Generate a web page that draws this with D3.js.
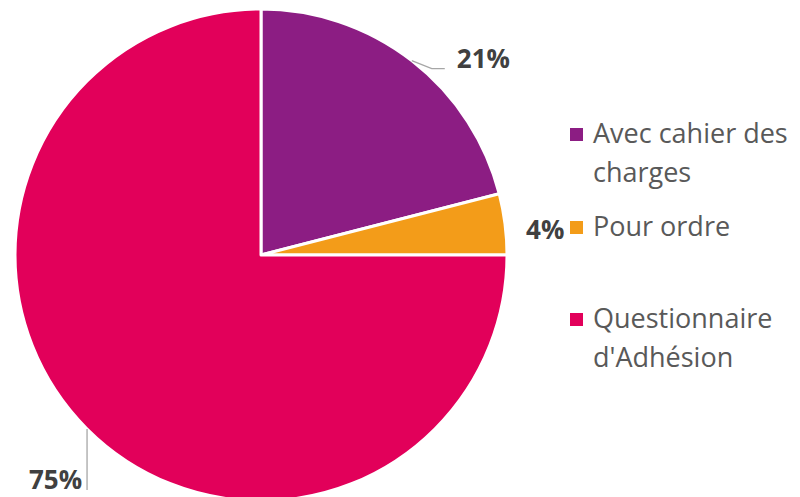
<!DOCTYPE html>
<html>
<head>
<meta charset="utf-8">
<script src="https://cdn.jsdelivr.net/npm/d3@7"></script>
<style>
  body { margin: 0; background: #fff; }
  text { font-family: "Open Sans", sans-serif; }
</style>
</head>
<body>
<div id="chart"></div>
<script>
// data
var categories = ["Avec cahier des charges", "Pour ordre", "Questionnaire d'Adhésion"];
var values = [21, 4, 75];
var legendLines = [["Avec cahier des", "charges"], ["Pour ordre"], ["Questionnaire", "d'Adhésion"]];
var colors = ["#8c1d83", "#f39c19", "#e2005a"];

var width = 800, height = 497;
var cx = 261, cy = 255, radius = 246;

var svg = d3.select("#chart")
  .append("svg")
    .attr("width", width)
    .attr("height", height);

var g = svg.append("g")
    .attr("transform", "translate(" + cx + "," + cy + ")");

var pie = d3.pie().sort(null).value(function(d) { return d; });
var arcs = pie(values);

var arc = d3.arc().innerRadius(0).outerRadius(radius);

g.selectAll("path.slice")
  .data(arcs)
  .enter()
  .append("path")
    .attr("class", "slice")
    .attr("d", arc)
    .attr("fill", function(d, i) { return colors[i]; })
    .attr("stroke", "#fff")
    .attr("stroke-width", 3)
    .attr("stroke-linejoin", "round");

// point on the rim at slice middle
function rim(d, r) {
  var a = (d.startAngle + d.endAngle) / 2;
  return [Math.sin(a) * r, -Math.cos(a) * r];
}

// label layout: leader line offsets from the rim point, text position
var labelLayout = [
  { line: [[0, 0], [20, 8], [33, 8]], text: [45, 7], anchor: "start" },
  { line: null, text: [21, 15], anchor: "start" },
  { line: [[0, 0], [0, 61]], text: [-5, 60], anchor: "end" }
];

arcs.forEach(function(d, i) {
  var p = rim(d, radius);
  var L = labelLayout[i];
  if (L.line) {
    g.append("path")
      .attr("d", d3.line()(L.line.map(function(o) { return [p[0] + o[0], p[1] + o[1]]; })))
      .attr("fill", "none")
      .attr("stroke", "#a6a6a6")
      .attr("stroke-width", 1.3);
  }
  g.append("text")
    .attr("x", p[0] + L.text[0])
    .attr("y", p[1] + L.text[1])
    .attr("text-anchor", L.anchor)
    .attr("font-size", 26)
    .attr("font-weight", "bold")
    .attr("fill", "#404040")
    .text(d.data + "%");
});

// legend
var legendY = [143, 236, 328];
var legend = svg.selectAll("g.legend")
  .data(categories)
  .enter()
  .append("g")
    .attr("class", "legend")
    .attr("transform", function(d, i) { return "translate(570," + legendY[i] + ")"; });

legend.append("rect")
  .attr("x", 0)
  .attr("y", -15)
  .attr("width", 13)
  .attr("height", 13)
  .attr("fill", function(d, i) { return colors[i]; });

legend.append("text")
  .attr("x", 23)
  .attr("font-size", 27)
  .attr("fill", "#595959")
  .selectAll("tspan")
  .data(function(d, i) { return legendLines[i]; })
  .enter()
  .append("tspan")
    .attr("x", 23)
    .attr("dy", function(d, j) { return j === 0 ? 0 : 39; })
    .text(function(d) { return d; });
</script>
</body>
</html>
